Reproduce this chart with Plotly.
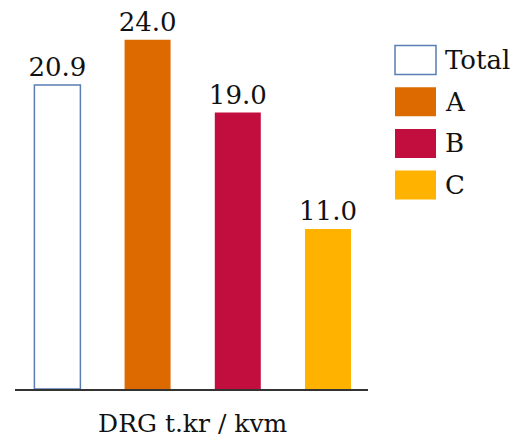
import plotly.graph_objects as go

category = ["DRG t.kr / kvm"]
names = ["Total", "A", "B", "C"]
values = [20.9, 24.0, 19.0, 11.0]
fills = ["#FFFFFF", "#DD6A00", "#C20E3E", "#FFB300"]
outlines = ["#5A7DB3", "#DD6A00", "#C20E3E", "#FFB300"]
FONT = "Georgia, 'DejaVu Serif', serif"

W, H = 527, 440
L, R, T, B = 15, 159, 20, 51
pw, ph = W - L - R, H - T - B

fig = go.Figure()
for n, v, f, o in zip(names, values, fills, outlines):
    fig.add_trace(go.Bar(
        x=category, y=[v], name=n,
        marker=dict(color=f, line=dict(color=o, width=1.5 if f == "#FFFFFF" else 0)),
        text=[f"{v:.1f}"], textposition="outside", constraintext="none",
        cliponaxis=False,
        textfont=dict(family=FONT, size=26, color="#111111"),
        showlegend=False,
    ))

# custom legend with large swatches
shapes, annotations = [], []
def px_x(x):
    return (x - L) / pw
def px_y(y):
    return (H - B - y) / ph
for i, (n, f, o) in enumerate(zip(names, fills, outlines)):
    cy = 60 + i * 41.7
    shapes.append(dict(type="rect", xref="paper", yref="paper",
                       x0=px_x(395), x1=px_x(436), y0=px_y(cy + 14.5), y1=px_y(cy - 14.5),
                       fillcolor=f, line=dict(color=o, width=1.5 if f == "#FFFFFF" else 0)))
    annotations.append(dict(xref="paper", yref="paper", x=px_x(443), y=px_y(cy),
                            text=n, showarrow=False, xanchor="left", yanchor="middle",
                            font=dict(family=FONT, size=26, color="#111111")))

fig.update_layout(
    width=W, height=H,
    margin=dict(l=L, r=R, t=T, b=B, autoexpand=False),
    paper_bgcolor="white", plot_bgcolor="white",
    barmode="group", bargap=0, bargroupgap=0.49,
    showlegend=False,
    shapes=shapes, annotations=annotations,
    xaxis=dict(range=[-0.4925, 0.4859], showline=True, linecolor="#333333", linewidth=2,
               ticks="outside", ticklen=11, tickcolor="rgba(0,0,0,0)", automargin=False,
               tickfont=dict(family=FONT, size=25, color="#111111"),
               showgrid=False, zeroline=False),
    yaxis=dict(range=[0, 25.36], visible=False, showgrid=False, zeroline=False,
               automargin=False),
)

fig.write_html("out.html")
